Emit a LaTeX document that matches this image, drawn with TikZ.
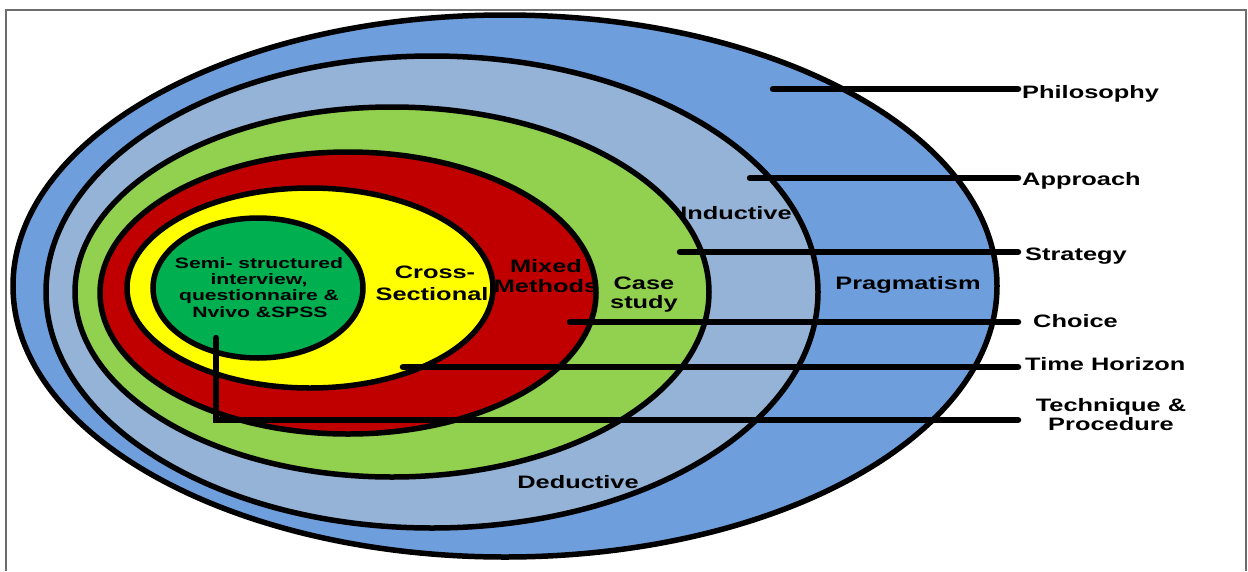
\documentclass[tikz,border=0pt]{standalone}
\usepackage{fontspec}
\setmainfont{Liberation Sans}[FakeStretch=1.41]
\definecolor{outerblue}{HTML}{6E9FDC}
\definecolor{greyblue}{HTML}{95B3D7}
\definecolor{lightgreen}{HTML}{92D050}
\definecolor{darkred}{HTML}{C00000}
\definecolor{brightyellow}{HTML}{FFFF00}
\definecolor{innergreen}{HTML}{00B050}
\definecolor{framegrey}{HTML}{6D6D6D}
\begin{document}
\begin{tikzpicture}[x=1pt,y=-1pt,
  ring/.style={draw=black, line width=5.5pt},
  lead/.style={draw=black, line width=6.5pt, line cap=round},
  lbl/.style={font=\fontsize{18}{20}\selectfont\bfseries, inner sep=0pt, anchor=base west, text=black},
  inlbl/.style={font=\fontsize{18}{20}\selectfont\bfseries, inner sep=0pt, anchor=base, text=black},
  smlbl/.style={font=\fontsize{15}{16}\selectfont\bfseries, inner sep=0pt, anchor=base, text=black}]
\useasboundingbox (0,0) rectangle (1248,571);
\fill[white] (0,0) rectangle (1248,571);
% frame
\draw[framegrey, line width=2pt] (6,571) -- (6,9.5) -- (1246,9.5) -- (1246,571);
% onion rings
\path[ring, fill=outerblue]    (505,286) ellipse [x radius=492, y radius=271];
\path[ring, fill=greyblue]     (432,292) ellipse [x radius=386, y radius=236];
\path[ring, fill=lightgreen]   (392,292) ellipse [x radius=317, y radius=185];
\path[ring, fill=darkred]      (348,293) ellipse [x radius=248, y radius=141];
\path[ring, fill=brightyellow] (310,288) ellipse [x radius=183, y radius=100];
\path[ring, fill=innergreen]   (258,288) ellipse [x radius=105, y radius=70];
% leader coordinates
\coordinate (sPhil) at (773,89);   \coordinate (ePhil) at (1018,89);
\coordinate (sAppr) at (750,178);  \coordinate (eAppr) at (1018,178);
\coordinate (sStra) at (680,252);  \coordinate (eStra) at (1018,252);
\coordinate (sChoi) at (570,322);  \coordinate (eChoi) at (1018,322);
\coordinate (sTime) at (403,367);  \coordinate (eTime) at (1018,367);
\coordinate (sTech) at (216,338);  \coordinate (kTech) at (216,420); \coordinate (eTech) at (1018,420);
\draw[lead] (sPhil) -- (ePhil);
\draw[lead] (sAppr) -- (eAppr);
\draw[lead] (sStra) -- (eStra);
\draw[lead] (sChoi) -- (eChoi);
\draw[lead] (sTime) -- (eTime);
\draw[lead] (sTech) -- (kTech) -- (eTech);
% right labels
\node[lbl] (lPhil) at (1022,98) {Philosophy};
\node[lbl] (lAppr) at (1022,185) {Approach};
\node[lbl] (lStra) at (1025,260) {Strategy};
\node[lbl] (lChoi) at (1033,327) {Choice};
\node[lbl] (lTime) at (1025,370) {Time Horizon};
\node[inlbl] (lTechA) at (1111,411) {Technique \&};
\node[inlbl] (lTechB) at (1111,430) {Procedure};
% ring labels
\node[inlbl] (tPrag) at (908,289) {Pragmatism};
\node[inlbl] (tInd) at (736,219) {Inductive};
\node[inlbl] (tDed) at (578,488) {Deductive};
\node[inlbl] (tCaseA) at (644,289) {Case};
\node[inlbl] (tCaseB) at (644,308) {study};
\node[inlbl] (tMixA) at (546,272) {Mixed};
\node[inlbl] (tMixB) at (546,292) {Methods};
\node[inlbl] (tCroA) at (435,278) {Cross-};
\node[inlbl] (tCroB) at (432,300) {Sectional};
\node[smlbl] (tSemA) at (259,268) {Semi- structured};
\node[smlbl] (tSemB) at (259,284) {interview,};
\node[smlbl] (tSemC) at (259,300) {questionnaire \&};
\node[smlbl] (tSemD) at (260,317) {Nvivo \&SPSS};
\end{tikzpicture}
\end{document}
